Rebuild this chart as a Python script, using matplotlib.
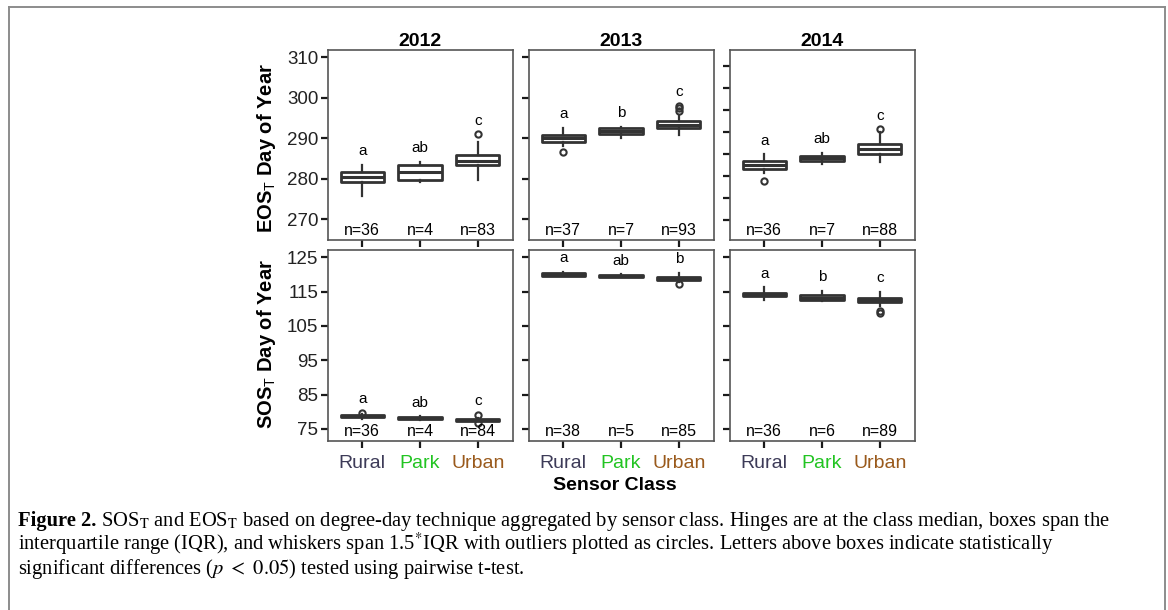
import matplotlib.pyplot as plt
from matplotlib.lines import Line2D

plt.rcParams['font.family'] = ['Liberation Sans', 'DejaVu Sans']
plt.rcParams['mathtext.fontset'] = 'custom'
plt.rcParams['mathtext.rm'] = 'Liberation Sans'
plt.rcParams['mathtext.bf'] = 'Liberation Sans:bold'

W, H = 1168, 610

classes = ['Rural', 'Park', 'Urban']
class_colors = ['#3d3b58', '#22c422', '#9a5a1c']
years = ['2012', '2013', '2014']

# EOS (end of season) box summaries: one row per year, one value per class
eos_whislo = [[275.8, 279.1, 279.7], [288.0, 290.0, 290.8], [280.8, 282.7, 283.1]]
eos_q1 = [[279.1, 279.8, 283.5], [289.2, 291.0, 292.6], [281.6, 283.4, 285.0]]
eos_med = [[280.4, 281.8, 284.5], [290.0, 291.8, 293.3], [282.5, 284.1, 286.1]]
eos_q3 = [[281.6, 283.5, 286.0], [290.9, 292.5, 294.2], [283.5, 284.6, 287.3]]
eos_whishi = [[283.4, 284.2, 289.2], [292.6, 292.9, 295.8], [284.9, 285.3, 289.9]]
eos_fliers = [[[], [], [291.0]], [[286.5], [], [296.8, 297.4, 298.0]], [[278.9], [], [290.6]]]
eos_n = [[36, 4, 83], [37, 7, 93], [36, 7, 88]]
eos_sig = [['a', 'ab', 'c'], ['a', 'b', 'c'], ['a', 'ab', 'c']]

# SOS (start of season) box summaries
sos_whislo = [[78.0, 77.7, 77.2], [119.4, 119.1, 117.9], [112.6, 112.3, 110.7]]
sos_q1 = [[78.4, 77.9, 77.4], [119.6, 119.2, 118.5], [113.7, 112.5, 111.9]]
sos_med = [[78.7, 78.2, 77.7], [120.0, 119.5, 118.9], [114.2, 113.2, 112.4]]
sos_q3 = [[79.0, 78.5, 78.0], [120.3, 119.8, 119.3], [114.7, 113.9, 113.0]]
sos_whishi = [[79.3, 78.7, 78.3], [120.8, 120.0, 120.4], [116.2, 115.3, 115.0]]
sos_fliers = [[[79.7], [], [79.1, 76.7]], [[], [], [117.1]], [[], [], [108.8, 109.2]]]
sos_n = [[36, 4, 84], [38, 5, 85], [36, 6, 89]]
sos_sig = [['a', 'ab', 'c'], ['a', 'ab', 'b'], ['a', 'b', 'c']]

eos_ticks = [[270, 280, 290, 300, 310], [270, 280, 290, 300, 310],
             [270, 275, 280, 285, 290, 295, 300, 305]]
eos_lims = [(264.9, 311.8), (264.9, 311.8), (265.5, 308.6)]
sos_ticks = [75, 85, 95, 105, 115, 125]
sos_lim = (71.5, 127.1)

dark = '#333333'
fig = plt.figure(figsize=(W / 100, H / 100), dpi=100)


def px_axes(x0, y0, w, h):
    return fig.add_axes([x0 / W, 1 - (y0 + h) / H, w / W, h / H])


def draw_panel(ax, whislo, q1, med, q3, whishi, fliers, ns, sig):
    stats = []
    for i in range(3):
        stats.append(dict(whislo=whislo[i], q1=q1[i], med=med[i], q3=q3[i],
                          whishi=whishi[i], fliers=fliers[i]))
    ax.bxp(stats, positions=[1, 2, 3], widths=0.75, patch_artist=True,
           showcaps=False,
           boxprops=dict(facecolor='white', edgecolor=dark, linewidth=2.0,
                         joinstyle='round'),
           medianprops=dict(color=dark, linewidth=2.2, solid_capstyle='butt'),
           whiskerprops=dict(color=dark, linewidth=1.6),
           flierprops=dict(marker='o', markerfacecolor='none', markeredgecolor=dark,
                           markersize=4.5, markeredgewidth=1.5))
    ax.set_xlim(0.4, 3.6)
    for i in range(3):
        top = max([whishi[i]] + fliers[i])
        ax.annotate(sig[i], (i + 1, top), xytext=(0, 7), textcoords='offset points',
                    ha='center', va='baseline', fontsize=11)
        ax.annotate('n=%d' % ns[i], (i + 1, 0), xycoords=ax.get_xaxis_transform(),
                    xytext=(0, 1.5), textcoords='offset points',
                    ha='center', va='bottom', fontsize=11.5)
    for s in ax.spines.values():
        s.set_color('#555555')
        s.set_linewidth(1.2)
    ax.tick_params(direction='out', length=5, width=1.6, color='#1a1a1a',
                   labelsize=13.5, labelcolor='#222222', pad=1.5)
    ax.set_xticks([1, 2, 3])


lefts = [327.5, 528.5, 729.5]
for j in range(3):
    ax = px_axes(lefts[j], 50, 185, 190)
    draw_panel(ax, eos_whislo[j], eos_q1[j], eos_med[j], eos_q3[j], eos_whishi[j],
               eos_fliers[j], eos_n[j], eos_sig[j])
    ax.set_ylim(*eos_lims[j])
    ax.set_yticks(eos_ticks[j])
    ax.set_xticklabels([])
    if j > 0:
        ax.set_yticklabels([])
    ax.set_title(years[j], fontsize=14, fontweight='bold', pad=1.5)

    ax = px_axes(lefts[j], 250, 185, 191)
    draw_panel(ax, sos_whislo[j], sos_q1[j], sos_med[j], sos_q3[j], sos_whishi[j],
               sos_fliers[j], sos_n[j], sos_sig[j])
    ax.set_ylim(*sos_lim)
    ax.set_yticks(sos_ticks)
    if j > 0:
        ax.set_yticklabels([])
    ax.set_xticklabels(classes, fontsize=14)
    ax.tick_params(axis='x', pad=5)
    for lab, c in zip(ax.get_xticklabels(), class_colors):
        lab.set_color(c)

fig.text(267 / W, 1 - 148 / H, r'EOS$_{\mathrm{T}}$ Day of Year', rotation=90,
         ha='center', va='center', fontsize=14.5, fontweight='bold')
fig.text(267 / W, 1 - 344 / H, r'SOS$_{\mathrm{T}}$ Day of Year', rotation=90,
         ha='center', va='center', fontsize=14.5, fontweight='bold')
fig.text(615 / W, 1 - 485 / H, 'Sensor Class', ha='center', va='center',
         fontsize=14, fontweight='bold')

# caption box outline (open at the bottom)
fc = '#8c8c8c'
fig.add_artist(Line2D([8.5 / W, 8.5 / W], [-0.1, 1 - 6.5 / H], color=fc, lw=1.4))
fig.add_artist(Line2D([8.5 / W, 1164.5 / W], [1 - 6.5 / H, 1 - 6.5 / H], color=fc, lw=1.4))
fig.add_artist(Line2D([1164.5 / W, 1164.5 / W], [-0.1, 1 - 6.5 / H], color=fc, lw=1.4))

cap = dict(family='Liberation Serif', fontsize=14.8, va='baseline', math_fontfamily='stix')
lines = [
    r' SOS$_\mathrm{T}$ and EOS$_\mathrm{T}$ based on degree-day technique aggregated by sensor class. '
    r'Hinges are at the class median, boxes span the',
    r'interquartile range (IQR), and whiskers span 1.5$^{*}$IQR with outliers plotted as circles. '
    r'Letters above boxes indicate statistically',
    r'significant differences ($p\ <\ 0.05$) tested using pairwise t-test.',
]
x0 = 18
base = [526, 550, 574]
head = fig.text(x0 / W, 1 - base[0] / H, 'Figure 2.', fontweight='bold', **cap)
fig.canvas.draw()
hw = head.get_window_extent().width
fig.text((x0 + hw) / W, 1 - base[0] / H, lines[0], **cap)
fig.text(x0 / W, 1 - base[1] / H, lines[1], **cap)
fig.text(x0 / W, 1 - base[2] / H, lines[2], **cap)

fig.savefig('out.png', dpi=100)
